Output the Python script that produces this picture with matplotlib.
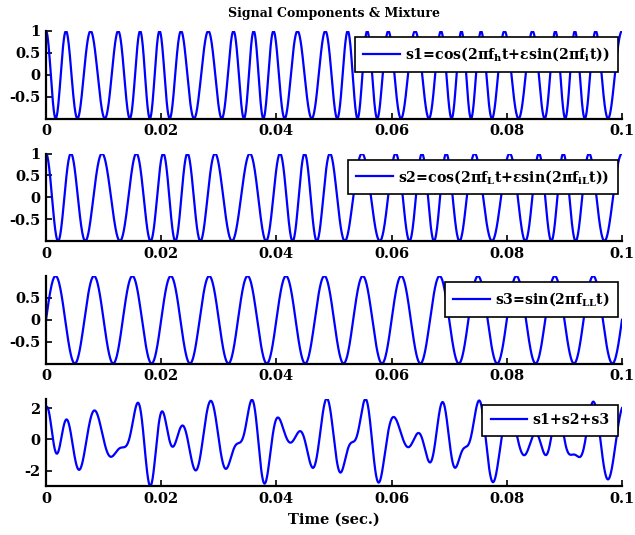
import numpy as np
import matplotlib
matplotlib.use('Agg')
import matplotlib.pyplot as plt

# signal parameters (Hz) and modulation index
f_h = 250.0
f_i = 55.0
f_L = 200.0
f_iL = 45.0
f_LL = 150.0
eps = 0.9

t_end = 0.1
n_samples = 2001

xticks = [0, 0.02, 0.04, 0.06, 0.08, 0.1]
xtick_labels = ['0', '0.02', '0.04', '0.06', '0.08', '0.1']
yticks_12 = [-0.5, 0, 0.5, 1]
yticks_3 = [-0.5, 0, 0.5]
yticks_4 = [-2, 0, 2]

labels = ['s1=cos(2πf$_h$t+εsin(2πf$_i$t))',
          's2=cos(2πf$_L$t+εsin(2πf$_{iL}$t))',
          's3=sin(2πf$_{LL}$t)',
          's1+s2+s3']

plt.rcParams['font.family'] = ['DejaVu Serif']
plt.rcParams['font.weight'] = 'bold'
plt.rcParams['font.size'] = 10
plt.rcParams['axes.unicode_minus'] = False
plt.rcParams['mathtext.fontset'] = 'custom'
plt.rcParams['mathtext.rm'] = 'DejaVu Serif:bold'
plt.rcParams['mathtext.it'] = 'DejaVu Serif:bold'
plt.rcParams['mathtext.bf'] = 'DejaVu Serif:bold'
plt.rcParams['mathtext.default'] = 'rm'

t = np.linspace(0, t_end, n_samples)
s1 = np.cos(2 * np.pi * f_h * t + eps * np.sin(2 * np.pi * f_i * t))
s2 = np.cos(2 * np.pi * f_L * t + eps * np.sin(2 * np.pi * f_iL * t))
s3 = np.sin(2 * np.pi * f_LL * t)
mix = s1 + s2 + s3
signals = [s1, s2, s3, mix]
yticks_all = [yticks_12, yticks_12, yticks_3, yticks_4]

fig = plt.figure(figsize=(6.35, 5.35), dpi=100)
W, H = 635.0, 535.0
left, right = 46, 622
tops = [31, 153.5, 276, 398.5]
height = 87.5

axes = []
for k in range(4):
    ax = fig.add_axes([left / W, 1 - (tops[k] + height) / H,
                       (right - left) / W, height / H])
    y = signals[k]
    ax.plot(t, y, color='blue', lw=1.6, label=labels[k])
    ax.set_xlim(0, t_end)
    if k == 3:
        ax.set_ylim(y.min(), y.max())
    else:
        ax.set_ylim(-1, 1)
    ax.set_xticks(xticks)
    ax.set_xticklabels(xtick_labels)
    ax.set_yticks(yticks_all[k])
    ax.set_yticklabels(['%g' % v for v in yticks_all[k]])
    for side in ['top', 'right']:
        ax.spines[side].set_visible(False)
    for side in ['left', 'bottom']:
        ax.spines[side].set_linewidth(1.6)
    ax.tick_params(direction='in', length=4, width=1.2, pad=4,
                   labelsize=10.5, top=False, right=False)
    leg = ax.legend(loc='upper right',
                    bbox_to_anchor=(1.0 - 4 / (right - left), 1 - 6 / height),
                    borderaxespad=0, fancybox=False, framealpha=1,
                    edgecolor='black', handlelength=2.6, handletextpad=0.35,
                    borderpad=0.6, fontsize=10.2)
    leg.get_frame().set_linewidth(1.2)
    axes.append(ax)

axes[0].set_title('Signal Components & Mixture', fontsize=9, fontweight='bold', pad=10)
axes[3].set_xlabel('Time (sec.)', fontsize=10.5, fontweight='bold', labelpad=5)

fig.savefig('out.png', dpi=100)
